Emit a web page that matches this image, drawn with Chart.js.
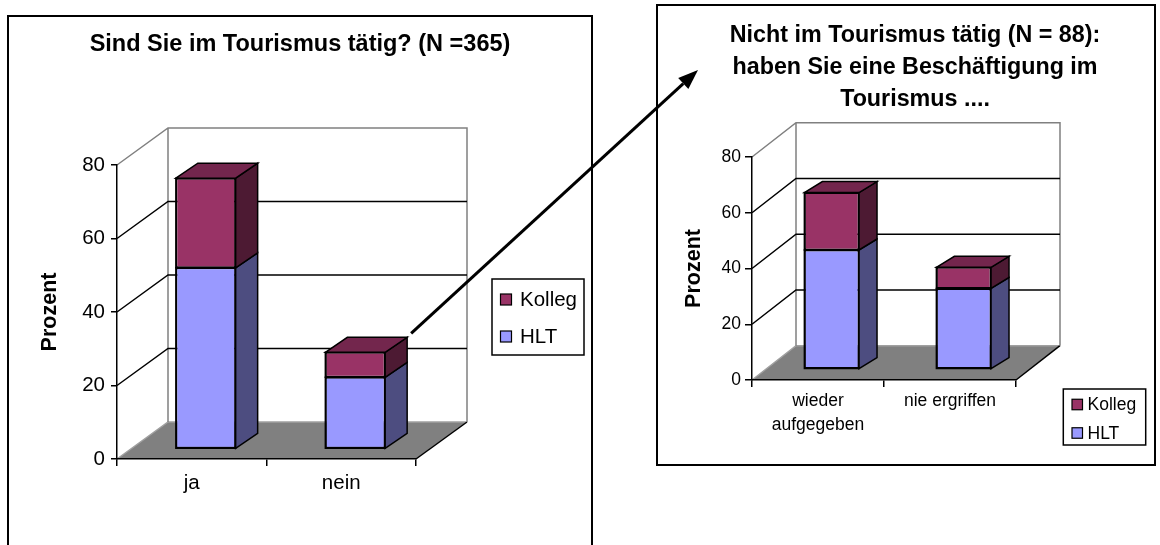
<!DOCTYPE html>
<html>
<head>
<meta charset="utf-8">
<script src="https://cdn.jsdelivr.net/npm/chart.js@4"></script>
<style>
  html, body { margin: 0; padding: 0; background: #fff; width: 1160px; height: 545px; overflow: hidden; position: relative; }
  .frame { position: absolute; border: 2px solid #000; box-sizing: border-box; }
  #frameWork { left: 7px; top: 14.5px; width: 586px; height: 600px; }
  #frameNotWork { left: 656px; top: 4px; width: 500px; height: 462px; }
  canvas { position: absolute; left: 0; top: 0; }
</style>
</head>
<body>
<div class="frame" id="frameWork"></div>
<div class="frame" id="frameNotWork"></div>
<canvas id="chartWork" width="1160" height="545"></canvas>
<canvas id="chartNotWork" width="1160" height="545"></canvas>
<script>
const FONT = "'Liberation Sans', Arial, Helvetica, sans-serif";
Chart.defaults.font.family = FONT;
Chart.defaults.color = '#000';

// Sind Sie im Tourismus tätig? (N = 365), Prozent
const workCategories = ['ja', 'nein'];
const workHLT = [49.3, 19.5];
const workKolleg = [24.4, 6.8];

// Nicht im Tourismus tätig (N = 88), Prozent
const notWorkCategories = [['wieder', 'aufgegeben'], 'nie ergriffen'];
const notWorkHLT = [42.8, 29.0];
const notWorkKolleg = [20.6, 7.6];

const percentTicks = [0, 20, 40, 60, 80];
const axisTitle = 'Prozent';
const titleWork = ['Sind Sie im Tourismus tätig? (N =365)'];
const titleNotWork = ['Nicht im Tourismus tätig (N = 88):', 'haben Sie eine Beschäftigung im', 'Tourismus ....'];

const PALETTE = {
  HLT:    { front: '#9999ff', side: '#4d4d80', top: '#7373bf' },
  Kolleg: { front: '#993366', side: '#4d1a33', top: '#73264d' }
};

function polygon(ctx, pts, fill) {
  ctx.beginPath();
  ctx.moveTo(pts[0][0], pts[0][1]);
  for (let i = 1; i < pts.length; i++) ctx.lineTo(pts[i][0], pts[i][1]);
  ctx.closePath();
  if (fill) {
    ctx.fillStyle = fill;
    ctx.fill();
  }
  ctx.stroke();
}

// Pseudo-3D: floor, walls with grid lines, and side/top faces of the stacked bars
const depth3d = {
  id: 'depth3d',
  beforeDraw(chart, args, o) {
    const { ctx, chartArea: a, scales: { y } } = chart;
    const dx = o.wall.x, dy = o.wall.y;
    const y0 = y.getPixelForValue(y.min);
    const yTop = y.getPixelForValue(y.max);
    ctx.save();
    ctx.lineWidth = o.lineWidth;
    ctx.lineJoin = 'miter';
    // floor
    ctx.beginPath();
    ctx.moveTo(a.left, y0);
    ctx.lineTo(a.right, y0);
    ctx.lineTo(a.right + dx, y0 + dy);
    ctx.lineTo(a.left + dx, y0 + dy);
    ctx.closePath();
    ctx.fillStyle = o.floor;
    ctx.fill();
    ctx.strokeStyle = o.floorEdge;
    ctx.beginPath();
    ctx.moveTo(a.left, y0);
    ctx.lineTo(a.left + dx, y0 + dy);
    ctx.lineTo(a.right + dx, y0 + dy);
    ctx.stroke();
    ctx.strokeStyle = '#000';
    ctx.beginPath();
    ctx.moveTo(a.right, y0);
    ctx.lineTo(a.right + dx, y0 + dy);
    ctx.stroke();
    // wall outline
    ctx.strokeStyle = o.frame;
    ctx.beginPath();
    ctx.moveTo(a.left, yTop);
    ctx.lineTo(a.left + dx, yTop + dy);
    ctx.lineTo(a.right + dx, yTop + dy);
    ctx.lineTo(a.right + dx, y0 + dy);
    ctx.moveTo(a.left + dx, yTop + dy);
    ctx.lineTo(a.left + dx, y0 + dy);
    ctx.stroke();
    // grid lines on side and back wall
    ctx.strokeStyle = o.grid;
    ctx.beginPath();
    y.ticks.forEach(t => {
      if (t.value <= y.min || t.value >= y.max) return;
      const py = y.getPixelForValue(t.value);
      ctx.moveTo(a.left, py);
      ctx.lineTo(a.left + dx, py + dy);
      ctx.lineTo(a.right + dx, py + dy);
    });
    ctx.stroke();
    ctx.restore();
  },
  beforeDatasetsDraw(chart, args, o) {
    chart.ctx.save();
    chart.ctx.translate(o.shift.x, o.shift.y);
  },
  afterDatasetsDraw(chart, args, o) {
    const ctx = chart.ctx;
    const bx = o.bar.x, by = o.bar.y;
    const metas = chart.getSortedVisibleDatasetMetas();
    ctx.lineWidth = o.lineWidth;
    ctx.strokeStyle = '#000';
    ctx.lineJoin = 'miter';
    metas.forEach((meta, di) => {
      const ds = chart.data.datasets[meta.index];
      meta.data.forEach(bar => {
        const p = bar.getProps(['x', 'y', 'base', 'width'], true);
        const l = p.x - p.width / 2, r = p.x + p.width / 2;
        // outline of the front face
        polygon(ctx, [[l, p.y], [r, p.y], [r, p.base], [l, p.base]], null);
        polygon(ctx, [[r, p.y], [r + bx, p.y + by], [r + bx, p.base + by], [r, p.base]], ds.sideColor);
        if (di === metas.length - 1) {
          polygon(ctx, [[l, p.y], [l + bx, p.y + by], [r + bx, p.y + by], [r, p.y]], ds.topColor);
        }
      });
    });
    ctx.restore();
  }
};

// Chart title and boxed legend
const captions = {
  id: 'captions',
  afterDraw(chart, args, o) {
    const ctx = chart.ctx;
    ctx.save();
    ctx.fillStyle = '#000';
    ctx.textAlign = 'center';
    ctx.textBaseline = 'middle';
    ctx.font = `bold ${o.title.size}px ${FONT}`;
    o.title.text.forEach((line, i) => ctx.fillText(line, o.title.x, o.title.y + i * o.title.lineHeight));

    const L = o.legend;
    ctx.lineWidth = 1.5;
    ctx.strokeStyle = '#000';
    ctx.strokeRect(L.x, L.y, L.w, L.h);
    ctx.font = `${L.size}px ${FONT}`;
    ctx.textAlign = 'left';
    chart.data.datasets.slice().reverse().forEach((ds, i) => {
      const cy = L.firstY + i * L.step;
      ctx.fillStyle = ds.backgroundColor;
      ctx.fillRect(L.swatchX, cy - L.swatch / 2, L.swatch, L.swatch);
      ctx.lineWidth = 1.2;
      ctx.strokeRect(L.swatchX, cy - L.swatch / 2, L.swatch, L.swatch);
      ctx.fillStyle = '#000';
      ctx.fillText(ds.label, L.textX, cy + 1);
    });
    ctx.restore();
  }
};

// Arrow leading from the "nein" bar to the second chart
const pointer = {
  id: 'pointer',
  afterDraw(chart, args, o) {
    const ctx = chart.ctx;
    const d = chart.options.plugins.depth3d;
    const meta = chart.getDatasetMeta(chart.data.datasets.length - 1);
    const bar = meta.data[o.fromIndex];
    const sx = bar.x + bar.width / 2 + d.shift.x + d.bar.x + o.gap.x;
    const sy = bar.y + d.shift.y + d.bar.y + o.gap.y;
    const ex = o.to[0], ey = o.to[1];
    const ang = Math.atan2(ey - sy, ex - sx);
    const hx = ex - o.head * Math.cos(ang), hy = ey - o.head * Math.sin(ang);
    ctx.save();
    ctx.strokeStyle = '#000';
    ctx.fillStyle = '#000';
    ctx.lineWidth = o.width;
    ctx.beginPath();
    ctx.moveTo(sx, sy);
    ctx.lineTo(hx, hy);
    ctx.stroke();
    const nx = -Math.sin(ang) * o.headWidth / 2, ny = Math.cos(ang) * o.headWidth / 2;
    ctx.beginPath();
    ctx.moveTo(ex, ey);
    ctx.lineTo(hx + nx, hy + ny);
    ctx.lineTo(hx - nx, hy - ny);
    ctx.closePath();
    ctx.fill();
    ctx.restore();
  }
};

function makeDatasets(hlt, kolleg, barPct) {
  const common = { borderColor: '#000', borderWidth: 1.5, borderSkipped: false, inflateAmount: 0,
                   barPercentage: barPct, categoryPercentage: 1, clip: false };
  return [
    Object.assign({ label: 'HLT', data: hlt, backgroundColor: PALETTE.HLT.front,
                    sideColor: PALETTE.HLT.side, topColor: PALETTE.HLT.top }, common),
    Object.assign({ label: 'Kolleg', data: kolleg, backgroundColor: PALETTE.Kolleg.front,
                    sideColor: PALETTE.Kolleg.side, topColor: PALETTE.Kolleg.top }, common)
  ];
}

function makeScales(s) {
  return {
    x: {
      stacked: true,
      afterFit: sc => { sc.height = 60; },
      grid: { drawOnChartArea: false, offset: true, tickLength: 7, color: '#000', lineWidth: 1.5 },
      border: { color: '#000', width: 1.5 },
      ticks: { font: { size: s.fontSize, lineHeight: s.catLineHeight }, padding: s.catPadding, maxRotation: 0, autoSkip: false, color: '#000' }
    },
    y: {
      stacked: true,
      min: 0,
      max: 80,
      afterBuildTicks: sc => { sc.ticks = percentTicks.map(v => ({ value: v })); },
      afterFit: sc => { sc.width = 87; },
      grid: { drawOnChartArea: false, tickLength: s.yTick, color: '#000', lineWidth: 1.5 },
      border: { color: '#000', width: 1.5 },
      ticks: { font: { size: s.fontSize }, padding: s.yPadding, color: '#000' },
      title: { display: true, text: axisTitle, color: '#000',
               font: { size: 21.5, weight: 'bold', lineHeight: 1 }, padding: { top: s.titlePad, bottom: 0 } }
    }
  };
}

new Chart(document.getElementById('chartWork'), {
  type: 'bar',
  data: { labels: workCategories, datasets: makeDatasets(workHLT, workKolleg, 0.4) },
  options: {
    responsive: false,
    animation: false,
    devicePixelRatio: 1,
    layout: { padding: { left: 30, right: 744, top: 165, bottom: 26 } },
    scales: makeScales({ fontSize: 20.5, catLineHeight: 1.2, catPadding: 5, yTick: 6, yPadding: 6, titlePad: 9.25 }),
    plugins: {
      legend: { display: false },
      title: { display: false },
      tooltip: { enabled: false },
      depth3d: { wall: { x: 51, y: -37 }, shift: { x: 14, y: -10 }, bar: { x: 22, y: -15 },
                 floor: '#808080', floorEdge: '#a0a0a0', frame: '#808080', grid: '#000', lineWidth: 1.5 },
      captions: {
        title: { text: titleWork, x: 300, y: 45, size: 23.5, lineHeight: 32 },
        legend: { x: 492, y: 279, w: 92, h: 76, swatchX: 500.5, swatch: 11, firstY: 299.5, step: 37, textX: 520, size: 20.5 }
      },
      pointer: { fromIndex: 1, gap: { x: 4, y: -4 }, to: [698, 70], width: 3, head: 20, headWidth: 15 }
    }
  },
  plugins: [depth3d, captions, pointer]
});

new Chart(document.getElementById('chartNotWork'), {
  type: 'bar',
  data: { labels: notWorkCategories, datasets: makeDatasets(notWorkHLT, notWorkKolleg, 0.414) },
  options: {
    responsive: false,
    animation: false,
    devicePixelRatio: 1,
    layout: { padding: { left: 665, right: 144, top: 157, bottom: 105 } },
    scales: makeScales({ fontSize: 17.5, catLineHeight: 1.33, catPadding: 3, yTick: 7, yPadding: 4, titlePad: 18.5 }),
    plugins: {
      legend: { display: false },
      title: { display: false },
      tooltip: { enabled: false },
      depth3d: { wall: { x: 44, y: -34.3 }, shift: { x: 13.7, y: -10.7 }, bar: { x: 18, y: -11 },
                 floor: '#808080', floorEdge: '#a0a0a0', frame: '#808080', grid: '#000', lineWidth: 1.5 },
      captions: {
        title: { text: titleNotWork, x: 915, y: 36, size: 23.3, lineHeight: 32 },
        legend: { x: 1063.3, y: 389, w: 82.4, h: 56, swatchX: 1072, swatch: 10.5, firstY: 404.5, step: 28.5, textX: 1087.5, size: 17.5 }
      }
    }
  },
  plugins: [depth3d, captions]
});
</script>
</body>
</html>
